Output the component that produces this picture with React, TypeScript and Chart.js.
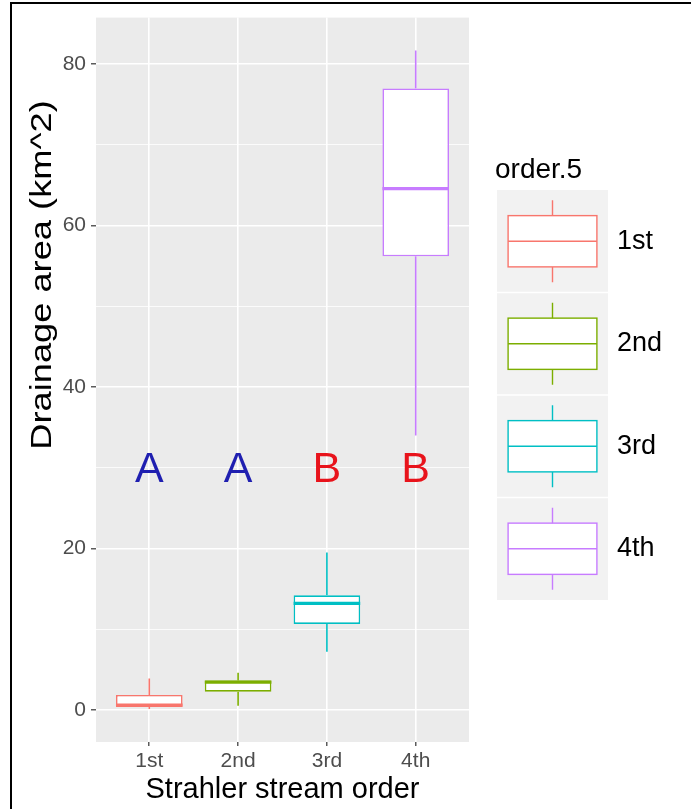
import React, { useEffect, useRef } from 'react';
import { Chart, registerables } from 'chart.js';

Chart.register(...registerables);

// Box-plot summaries of drainage area (km^2) per Strahler stream order
const categories = ['1st', '2nd', '3rd', '4th'];
const whiskerLow = [0.1, 0.5, 7.2, 34.0];
const lowerHinge = [0.37, 2.26, 10.65, 56.2];
const medians = [0.6, 3.45, 13.2, 64.6];
const upperHinge = [1.85, 3.65, 14.2, 77.0];
const whiskerHigh = [3.9, 4.6, 19.5, 81.7];

// Significance group letters, placed at a common height
const groupLetters = ['A', 'A', 'B', 'B'];
const letterLevel = 30;

const majorTicks = [0, 20, 40, 60, 80];
const minorTicks = [10, 30, 50, 70];

const seriesColors = ['#F8766D', '#7CAE00', '#00BFC4', '#C77CFF'];
const letterColors = ['#1F1FB0', '#1F1FB0', '#E8131B', '#E8131B'];

const xTitle = 'Strahler stream order';
const yTitle = 'Drainage area (km^2)';
const legendTitle = 'order.5';

const FONT = "'Liberation Sans', Arial, sans-serif";

// y limits with ggplot-style 5% expansion of the data range
const dataMin = Math.min(...whiskerLow);
const dataMax = Math.max(...whiskerHigh);
const span = dataMax - dataMin;
const yMin = dataMin - 0.05 * span;
const yMax = dataMax + 0.05 * span;

const panelPlugin = {
  id: 'panel',
  beforeDraw(chart: any) {
    const { ctx, chartArea } = chart;
    ctx.save();
    ctx.fillStyle = '#FFFFFF';
    ctx.fillRect(0, 0, chart.width, chart.height);
    ctx.fillStyle = '#EBEBEB';
    ctx.fillRect(chartArea.left, chartArea.top, chartArea.right - chartArea.left, chartArea.bottom - chartArea.top);
    ctx.restore();
  },
};

const boxPlugin = {
  id: 'boxParts',
  afterDatasetsDraw(chart: any) {
    const { ctx } = chart;
    const xs = chart.scales.x;
    const ys = chart.scales.y;
    const meta = chart.getDatasetMeta(0);
    ctx.save();
    categories.forEach((_, i) => {
      const x = xs.getPixelForValue(i);
      const bar = meta.data[i];
      const half = bar.width / 2;
      ctx.strokeStyle = seriesColors[i];
      ctx.lineCap = 'butt';
      // whiskers
      ctx.lineWidth = 1.6;
      ctx.beginPath();
      ctx.moveTo(x, ys.getPixelForValue(upperHinge[i]));
      ctx.lineTo(x, ys.getPixelForValue(whiskerHigh[i]));
      ctx.moveTo(x, ys.getPixelForValue(lowerHinge[i]));
      ctx.lineTo(x, ys.getPixelForValue(whiskerLow[i]));
      ctx.stroke();
      // median
      ctx.lineWidth = 3.2;
      ctx.beginPath();
      const my = ys.getPixelForValue(medians[i]);
      ctx.moveTo(x - half, my);
      ctx.lineTo(x + half, my);
      ctx.stroke();
    });
    // group letters
    ctx.font = `43px ${FONT}`;
    ctx.textAlign = 'center';
    ctx.textBaseline = 'alphabetic';
    categories.forEach((_, i) => {
      const x = xs.getPixelForValue(i);
      const y = ys.getPixelForValue(letterLevel);
      const m = ctx.measureText(groupLetters[i]);
      ctx.fillStyle = letterColors[i];
      ctx.fillText(groupLetters[i], x, y + m.actualBoundingBoxAscent / 2);
    });
    ctx.restore();
  },
};

const decorPlugin = {
  id: 'decor',
  afterDraw(chart: any) {
    const { ctx, chartArea } = chart;
    ctx.save();
    // axis titles
    ctx.fillStyle = '#000000';
    ctx.font = `29px ${FONT}`;
    ctx.textAlign = 'center';
    ctx.textBaseline = 'alphabetic';
    ctx.fillText(xTitle, (chartArea.left + chartArea.right) / 2, 798);
    ctx.save();
    ctx.translate(43, 275);
    ctx.rotate(-Math.PI / 2);
    ctx.scale(1.25, 1);
    ctx.textBaseline = 'middle';
    ctx.fillText(yTitle, 0, 0);
    ctx.restore();

    // legend
    const lx = 497;
    const kw = 111;
    const kh = 102.5;
    const top = 190;
    ctx.textAlign = 'left';
    ctx.textBaseline = 'alphabetic';
    ctx.font = `28px ${FONT}`;
    ctx.fillText(legendTitle, 495, 178);
    ctx.fillStyle = '#F2F2F2';
    ctx.fillRect(lx, top, kw, kh * categories.length);
    categories.forEach((label, i) => {
      const ky = top + i * kh;
      if (i > 0) {
        ctx.strokeStyle = '#FFFFFF';
        ctx.lineWidth = 1.5;
        ctx.beginPath();
        ctx.moveTo(lx, ky);
        ctx.lineTo(lx + kw, ky);
        ctx.stroke();
      }
      const cx = lx + kw / 2;
      const bx0 = lx + kw * 0.1;
      const bx1 = lx + kw * 0.9;
      const by0 = ky + kh * 0.25;
      const by1 = ky + kh * 0.75;
      ctx.fillStyle = '#FFFFFF';
      ctx.fillRect(bx0, by0, bx1 - bx0, by1 - by0);
      ctx.strokeStyle = seriesColors[i];
      ctx.lineWidth = 1.4;
      ctx.strokeRect(bx0, by0, bx1 - bx0, by1 - by0);
      ctx.beginPath();
      ctx.moveTo(bx0, ky + kh / 2);
      ctx.lineTo(bx1, ky + kh / 2);
      ctx.moveTo(cx, ky + kh * 0.1);
      ctx.lineTo(cx, by0);
      ctx.moveTo(cx, by1);
      ctx.lineTo(cx, ky + kh * 0.9);
      ctx.stroke();
      ctx.fillStyle = '#000000';
      ctx.font = `27px ${FONT}`;
      ctx.textBaseline = 'middle';
      ctx.fillText(label, 617, ky + kh / 2);
    });

    // frame
    ctx.strokeStyle = '#000000';
    ctx.lineWidth = 2;
    ctx.beginPath();
    ctx.moveTo(11, chart.height);
    ctx.lineTo(11, 3);
    ctx.lineTo(chart.width, 3);
    ctx.stroke();
    ctx.restore();
  },
};

export default function App() {
  const canvasRef = useRef<HTMLCanvasElement | null>(null);

  useEffect(() => {
    document.body.style.margin = '0';
    const canvas = canvasRef.current;
    if (!canvas) return;
    const isMajor = (v: number) => majorTicks.includes(v);
    const chart = new Chart(canvas, {
      type: 'bar',
      data: {
        datasets: [
          {
            data: categories.map((_, i) => ({ x: i, y: [lowerHinge[i], upperHinge[i]] })) as any,
            backgroundColor: '#FFFFFF',
            borderColor: seriesColors,
            borderWidth: 1.6,
            borderSkipped: false,
            barPercentage: 0.75,
            categoryPercentage: 1,
          },
        ],
      },
      options: {
        responsive: false,
        animation: false,
        events: [],
        layout: { padding: { left: 0, top: 14, right: 222, bottom: 0 } },
        plugins: { legend: { display: false }, tooltip: { enabled: false } },
        scales: {
          x: {
            type: 'linear',
            offset: false,
            min: -0.6,
            max: 3.6,
            afterBuildTicks: (s: any) => {
              s.ticks = categories.map((_, i) => ({ value: i }));
            },
            afterFit: (s: any) => {
              s.height = 67;
            },
            ticks: {
              callback: (v: any) => categories[v as number] ?? '',
              color: '#4D4D4D',
              font: { family: FONT, size: 21 },
              padding: 3,
              autoSkip: false,
              maxRotation: 0,
            },
            grid: {
              color: '#FFFFFF',
              lineWidth: 1.6,
              tickColor: '#333333',
              tickWidth: 1.2,
              tickLength: 4,
              offset: false,
            },
            border: { display: false },
          },
          y: {
            type: 'linear',
            min: yMin,
            max: yMax,
            afterBuildTicks: (s: any) => {
              s.ticks = [...majorTicks, ...minorTicks].sort((a, b) => a - b).map((v) => ({ value: v }));
            },
            afterFit: (s: any) => {
              s.width = 96;
            },
            ticks: {
              callback: (v: any) => (isMajor(v as number) ? String(v) : ''),
              color: '#4D4D4D',
              font: { family: FONT, size: 21 },
              padding: 5,
              autoSkip: false,
            },
            grid: {
              color: '#FFFFFF',
              lineWidth: (c: any) => (isMajor(c.tick?.value) ? 1.6 : 0.8),
              tickColor: (c: any) => (isMajor(c.tick?.value) ? '#333333' : 'rgba(0,0,0,0)'),
              tickWidth: 1.2,
              tickLength: 5,
            },
            border: { display: false },
          },
        },
      },
      plugins: [panelPlugin, boxPlugin, decorPlugin],
    });
    return () => chart.destroy();
  }, []);

  return <canvas ref={canvasRef} width={691} height={809} style={{ display: 'block' }} />;
}
